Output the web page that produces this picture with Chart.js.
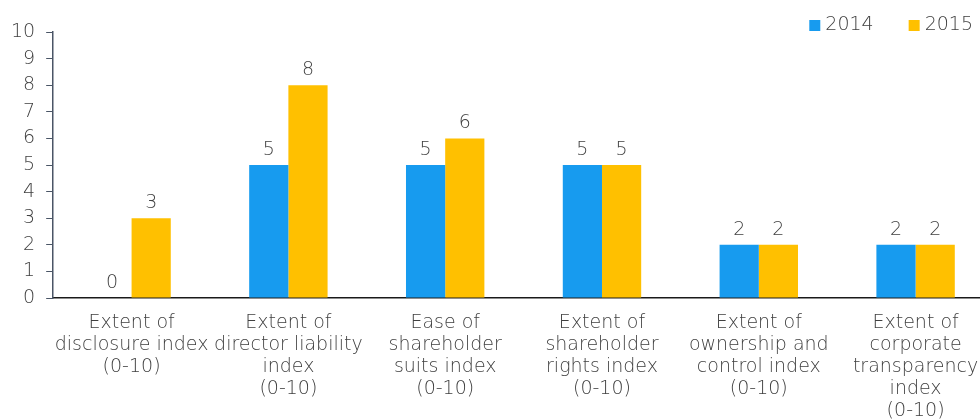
<!DOCTYPE html>
<html>
<head>
<meta charset="utf-8">
<script src="https://cdn.jsdelivr.net/npm/chart.js@4/dist/chart.umd.min.js"></script>
<style>
  html, body { margin: 0; padding: 0; background: #fff; overflow: hidden; }
  #caja { position: relative; width: 994px; height: 436px; }
</style>
</head>
<body>
<div id="caja"><canvas id="grafico"></canvas></div>
<script>
const categorias = [
  ["Extent of", "disclosure index", "(0-10)"],
  ["Extent of", "director liability", "index", "(0-10)"],
  ["Ease of", "shareholder", "suits index", "(0-10)"],
  ["Extent of", "shareholder", "rights index", "(0-10)"],
  ["Extent of", "ownership and", "control index", "(0-10)"],
  ["Extent of", "corporate", "transparency", "index", "(0-10)"]
];
const valores2014 = [0, 5, 5, 5, 2, 2];
const valores2015 = [3, 8, 6, 5, 2, 2];
const ticksY = [0, 1, 2, 3, 4, 5, 6, 7, 8, 9, 10];

const colorTexto = '#404040';
const fuente = "'DejaVu Sans', sans-serif";
const peso = 300;

// etiquetas de valor encima de cada barra
const etiquetasBarras = {
  id: 'etiquetasBarras',
  afterDatasetsDraw(chart) {
    const ctx = chart.ctx;
    ctx.save();
    ctx.font = peso + ' 19px ' + fuente;
    ctx.fillStyle = colorTexto;
    ctx.textAlign = 'center';
    ctx.textBaseline = 'alphabetic';
    chart.data.datasets.forEach((ds, i) => {
      const meta = chart.getDatasetMeta(i);
      meta.data.forEach((barra, j) => {
        ctx.fillText(String(ds.data[j]), barra.x, barra.y - 10);
      });
    });
    ctx.restore();
  }
};

// leyenda arriba a la derecha
const leyenda = {
  id: 'leyenda',
  afterDraw(chart) {
    const ctx = chart.ctx;
    ctx.save();
    ctx.font = peso + ' 19px ' + fuente;
    ctx.textBaseline = 'middle';
    ctx.textAlign = 'left';
    let x = 973;
    const y = 25;
    const items = chart.data.datasets.slice().reverse();
    items.forEach((ds) => {
      const ancho = ctx.measureText(ds.label).width;
      x -= ancho;
      ctx.fillStyle = colorTexto;
      ctx.fillText(ds.label, x, y);
      x -= 5 + 11;
      ctx.fillStyle = ds.backgroundColor;
      ctx.fillRect(x, y - 5, 11, 11);
      x -= 35;
    });
    ctx.restore();
  }
};

new Chart(document.getElementById('grafico'), {
  type: 'bar',
  data: {
    labels: categorias,
    datasets: [
      { label: '2014', data: valores2014, backgroundColor: '#179BEF' },
      { label: '2015', data: valores2015, backgroundColor: '#FFC000' }
    ]
  },
  options: {
    responsive: true,
    maintainAspectRatio: false,
    animation: false,
    categoryPercentage: 0.5,
    barPercentage: 1.0,
    layout: { padding: { top: 32, left: 0, right: 0, bottom: 0 } },
    plugins: {
      legend: { display: false },
      tooltip: { enabled: false }
    },
    scales: {
      x: {
        grid: { display: false, drawTicks: false },
        border: { color: '#1a1a1a', width: 1.5 },
        ticks: {
          color: colorTexto,
          font: { family: fuente, size: 19, weight: peso, lineHeight: '22px' },
          padding: 14,
          maxRotation: 0,
          autoSkip: false
        }
      },
      y: {
        min: 0,
        max: 10,
        afterBuildTicks(scale) {
          scale.ticks = ticksY.map(v => ({ value: v }));
        },
        grid: { display: true, drawOnChartArea: false, drawTicks: true, tickLength: 7, color: '#4a5566' },
        border: { color: '#4a5566', width: 1.5 },
        ticks: {
          color: colorTexto,
          font: { family: fuente, size: 19, weight: peso },
          padding: 11
        }
      }
    }
  },
  plugins: [etiquetasBarras, leyenda]
});
</script>
</body>
</html>
